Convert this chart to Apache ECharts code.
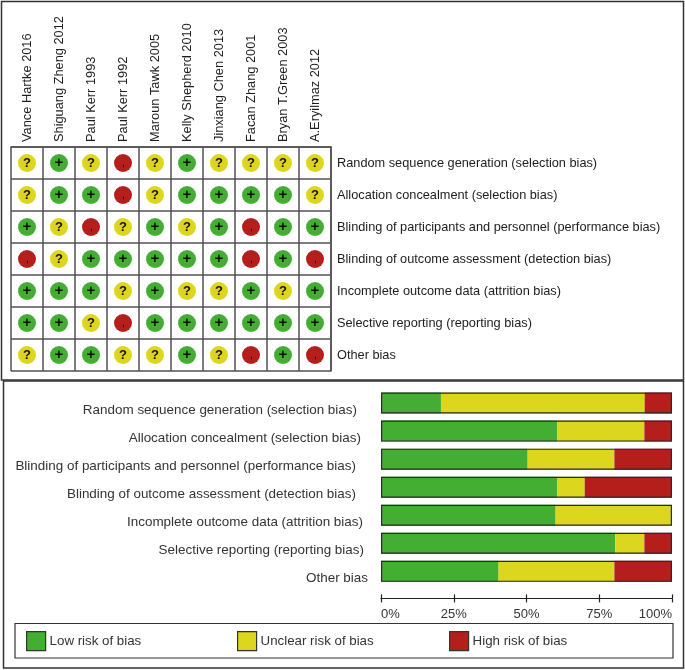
<!DOCTYPE html>
<html><head><meta charset="utf-8">
<style>html,body{margin:0;padding:0;background:#fff}#c{width:685px;height:670px}</style>
<script src="https://cdn.jsdelivr.net/npm/echarts@6/dist/echarts.min.js"></script>
</head><body><div id="c"></div>
<script>
const studies = ['Vance Hartke 2016','Shiguang Zheng 2012','Paul Kerr 1993','Paul Kerr 1992','Maroun Tawk 2005','Kelly Shepherd 2010','Jinxiang Chen 2013','Facan Zhang 2001','Bryan T.Green 2003','A.Eryilmaz 2012'];
const domains = ['Random sequence generation (selection bias)','Allocation concealment (selection bias)','Blinding of participants and personnel (performance bias)','Blinding of outcome assessment (detection bias)','Incomplete outcome data (attrition bias)','Selective reporting (reporting bias)','Other bias'];
const judgements = [
 ['?','+','?','-','?','+','?','?','?','?'],
 ['?','+','+','-','?','+','+','+','+','?'],
 ['+','?','-','?','+','?','+','-','+','+'],
 ['-','?','+','+','+','+','+','-','+','-'],
 ['+','+','+','?','+','?','?','+','?','+'],
 ['+','+','?','-','+','+','+','+','+','+'],
 ['?','+','+','?','?','+','?','-','+','-']
];
const lowPct = [20.6,60.5,50.4,60.5,60,80.5,40.4];
const unclearPct = [70,30,29.8,9.5,40,10,39.8];
const highPct = [9.4,9.5,19.8,30,0,9.5,19.8];
const totalPct = [100,100,100,100,100,100,100];
const pctTicks = ['0%','25%','50%','75%','100%'];
const labelNudge = [11,7,12,12,5,4,0];

const GREEN='#43ae32', YELLOW='#ddd61f', RED='#b41f1c', INK='#1c1c1c', SOFT='#333', LINE='#505050';
const FONT='"Liberation Sans", Arial, sans-serif';

function cells(code){
  const out=[];
  judgements.forEach((row,r)=>row.forEach((v,c)=>{ if(v===code) out.push([c,r,v]); }));
  return out;
}
function scatter(name,code,color,labelExtra){
  return {type:'scatter',name,xAxisIndex:0,yAxisIndex:0,symbol:'circle',symbolSize:18,
    data:cells(code),itemStyle:{color,opacity:1},
    label:Object.assign({show:true,position:'inside',formatter:p=>p.data[2],fontFamily:FONT,fontWeight:'bold',fontSize:12,color:'#111'},labelExtra||{}),
    emphasis:{disabled:true},silent:true};
}
function stacked(name,data,color){
  return {type:'bar',name,stack:'risk',xAxisIndex:1,yAxisIndex:1,data,barWidth:21,barGap:'-100%',itemStyle:{color},silent:true};
}
const rich={};
labelNudge.forEach((n,i)=>{ rich['r'+i]={padding:[14,n,0,0],fontFamily:FONT,fontSize:13.45,color:SOFT}; });

const chart=echarts.init(document.getElementById('c'),null,{renderer:'canvas'});
const legendBase={orient:'horizontal',top:631,padding:0,itemWidth:19,itemHeight:19,icon:'rect',selectedMode:false,
  itemStyle:{borderColor:'#333',borderWidth:1.2},textStyle:{fontFamily:FONT,fontSize:13.3,color:SOFT,padding:[3,0,0,-1]},itemGap:0};
chart.setOption({
  animation:false,backgroundColor:'#fff',
  graphic:[
    {type:'rect',z:-1,shape:{x:1.5,y:1.5,width:682,height:378.5},style:{fill:'#fff',stroke:'#333',lineWidth:1.5}},
    {type:'rect',z:-1,shape:{x:3.5,y:381,width:680,height:287},style:{fill:'#fff',stroke:'#333',lineWidth:1.5}},
    {type:'rect',z:-1,shape:{x:15,y:623.5,width:658,height:34.5},style:{fill:'#fff',stroke:'#333',lineWidth:1.2}}
  ],
  legend:[
    Object.assign({},legendBase,{left:26,data:['Low risk of bias']}),
    Object.assign({},legendBase,{left:237,data:['Unclear risk of bias']}),
    Object.assign({},legendBase,{left:449,data:['High risk of bias']})
  ],
  grid:[
    {left:11,top:147,width:320,height:224},
    {left:381,top:389,width:291,height:196.4}
  ],
  xAxis:[
    {type:'category',gridIndex:0,position:'top',data:studies,
     axisLine:{show:true,lineStyle:{color:LINE,width:1.5}},axisTick:{show:false},
     splitLine:{show:true,lineStyle:{color:LINE,width:1.5}},
     axisLabel:{rotate:-90,interval:0,margin:5,fontFamily:FONT,fontSize:12.8,color:INK}},
    {type:'value',gridIndex:1,min:0,max:100,interval:25,position:'bottom',offset:13,
     axisLine:{show:true,lineStyle:{color:'#222',width:1.2}},
     axisTick:{show:true,length:4,lineStyle:{color:'#222',width:1.2}},splitLine:{show:false},
     axisLabel:{margin:10,fontFamily:FONT,fontSize:13,color:SOFT,alignMinLabel:'left',alignMaxLabel:'right',
       formatter:v=>pctTicks[v/25]}},
    {type:'value',gridIndex:1,min:0,max:100,interval:25,position:'bottom',offset:13,
     axisLine:{show:false},axisTick:{show:true,inside:true,length:4,lineStyle:{color:'#222',width:1.2}},
     splitLine:{show:false},axisLabel:{show:false}}
  ],
  yAxis:[
    {type:'category',gridIndex:0,position:'right',inverse:true,data:domains,
     axisLine:{show:true,lineStyle:{color:LINE,width:1.5}},axisTick:{show:false},
     splitLine:{show:true,lineStyle:{color:LINE,width:1.5}},
     axisLabel:{interval:0,margin:6,fontFamily:FONT,fontSize:12.75,color:INK}},
    {type:'category',gridIndex:1,position:'left',inverse:true,data:domains,
     axisLine:{show:false},axisTick:{show:false},splitLine:{show:false},
     axisLabel:{interval:0,margin:13,rich,formatter:(v,i)=>'{r'+i+'|'+v+'}'}}
  ],
  series:[
    scatter('Low risk of bias','+',GREEN,{fontSize:15}),
    scatter('Unclear risk of bias','?',YELLOW,{fontSize:13}),
    scatter('High risk of bias','-',RED,{rotate:90,fontSize:11,fontWeight:'normal',offset:[-3,0]}),
    stacked('Low risk of bias',lowPct,GREEN),
    stacked('Unclear risk of bias',unclearPct,YELLOW),
    stacked('High risk of bias',highPct,RED),
    {type:'bar',name:'frame',xAxisIndex:1,yAxisIndex:1,data:totalPct,barWidth:21,barGap:'-100%',z:5,silent:true,
     itemStyle:{color:'transparent',borderColor:'#2a2a2a',borderWidth:1.2}}
  ]
});
</script></body></html>
